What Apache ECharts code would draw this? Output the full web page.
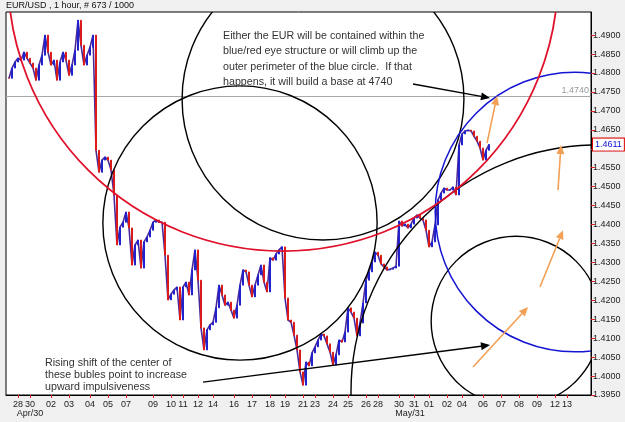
<!DOCTYPE html>
<html>
<head>
<meta charset="utf-8">
<script src="https://cdn.jsdelivr.net/npm/echarts@6/dist/echarts.min.js"></script>
<style>
html, body { margin: 0; padding: 0; background: #f0f0f0; }
#main { width: 625px; height: 422px; }
</style>
</head>
<body>
<div id="main"></div>
<script>
// EUR/USD hourly closes, one per slot, first one sits in slot 1
const closes = [
  1.4786, 1.4813, 1.4829, 1.4839, 1.4834, 1.4855, 1.4839, 1.4826, 1.4813, 1.4781,
  1.4821, 1.4847, 1.4900, 1.4855, 1.4821, 1.4834, 1.4781, 1.4829, 1.4855, 1.4834,
  1.4794, 1.4821, 1.4860, 1.4939, 1.4873, 1.4821, 1.4847, 1.4868, 1.4900, 1.4596,
  1.4538, 1.4570, 1.4578, 1.4570, 1.4544, 1.4478, 1.4346, 1.4393, 1.4406, 1.4433,
  1.4391, 1.4293, 1.4346, 1.4359, 1.4285, 1.4354, 1.4367, 1.4385, 1.4406, 1.4412,
  1.4406, 1.4406, 1.4319, 1.4201, 1.4216, 1.4227, 1.4235, 1.4148, 1.4235, 1.4248,
  1.4214, 1.4280, 1.4333, 1.4253, 1.4127, 1.4069, 1.4122, 1.4135, 1.4142, 1.4180,
  1.4240, 1.4214, 1.4187, 1.4195, 1.4174, 1.4153, 1.4187, 1.4240, 1.4280, 1.4275,
  1.4240, 1.4209, 1.4240, 1.4267, 1.4293, 1.4248, 1.4222, 1.4312, 1.4306, 1.4322,
  1.4333, 1.4341, 1.4206, 1.4148, 1.4142, 1.4108, 1.4069, 1.4011, 1.3976, 1.4037,
  1.4027, 1.4061, 1.4077, 1.4095, 1.4111, 1.4106, 1.4085, 1.4063, 1.4029, 1.4056,
  1.4095, 1.4090, 1.4116, 1.4180, 1.4169, 1.4153, 1.4106, 1.4140, 1.4193, 1.4253,
  1.4275, 1.4301, 1.4327, 1.4319, 1.4296, 1.4288, 1.4280, 1.4282, 1.4285, 1.4290,
  1.4409, 1.4396, 1.4401, 1.4391, 1.4401, 1.4417, 1.4425, 1.4417, 1.4412, 1.4385,
  1.4341, 1.4354, 1.4399, 1.4465, 1.4483, 1.4496, 1.4491, 1.4491, 1.4499, 1.4478,
  1.4610, 1.4639, 1.4647, 1.4649, 1.4647, 1.4633, 1.4620, 1.4602, 1.4570, 1.4596,
  1.4611
];
const slotCount = 196;

// day labels along the time axis and the slot each one sits on
const dayLabels = ['28', '30', '02', '03', '04', '05', '07', '09', '10', '11', '12', '14',
  '16', '17', '18', '19', '21', '23', '24', '25', '26', '28', '30', '31', '01', '02',
  '04', '06', '07', '08', '09', '12', '13'];
const daySlots = [4, 8, 15, 21, 28, 34, 40, 49, 55, 59, 64, 69,
  76, 82, 88, 93, 99, 103, 109, 114, 120, 124, 131, 136, 141, 147,
  152, 159, 165, 171, 177, 183, 187];
const monthLabels = ['Apr/30', 'May/31'];
const monthSlots = [8, 134.7];

// price scale
const yMin = 1.3950, yMax = 1.4961;
const yTicks = [1.3950, 1.4000, 1.4050, 1.4100, 1.4150, 1.4200, 1.4250, 1.4300, 1.4350, 1.4400,
  1.4450, 1.4500, 1.4550, 1.4600, 1.4650, 1.4700, 1.4750, 1.4800, 1.4850, 1.4900];
const baseLevel = 1.4740;
const lastPrice = 1.4611;

// drawn circles: [center slot, center price, radius in price]
const redCircle = [[92.33, 1.5056, 0.0726]];
const blueCircle = [[189.67, 1.4433, 0.0369]];
const blackCircles = [
  [105.67, 1.4731, 0.0372],
  [78, 1.4404, 0.0362],
  [197.33, 1.3958, 0.0652],
  [170, 1.4145, 0.0224]
];
// arrows: [from slot, from price, to slot, to price]
const blackArrows = [
  [135.67, 1.4771, 161.33, 1.4734],
  [65.67, 1.3984, 161.33, 1.4082]
];
const orangeArrows = [
  [160.33, 1.4615, 163.67, 1.4739],
  [184, 1.4491, 185, 1.4610],
  [178, 1.4235, 185.67, 1.4385],
  [155.67, 1.4024, 174, 1.4182]
];

const categories = Array.from({ length: slotCount }, (_, i) => {
  const k = daySlots.indexOf(i);
  return k >= 0 ? dayLabels[k] : '';
});
const candles = [['-', '-', '-', '-']].concat(closes.map((c, i) => {
  const o = i ? closes[i - 1] : c;
  return [o, c, Math.min(o, c), Math.max(o, c)];
}));

const font = 'Liberation Sans, Arial, sans-serif';

function ring(color, width) {
  return function (params, api) {
    const c = api.coord([api.value(0), api.value(1)]);
    const r = api.size([0, api.value(2)])[1];
    return {
      type: 'circle',
      shape: { cx: c[0], cy: c[1], r: r },
      style: { fill: 'none', stroke: color, lineWidth: width }
    };
  };
}

function arrow(color, width, head) {
  return function (params, api) {
    const a = api.coord([api.value(0), api.value(1)]);
    const b = api.coord([api.value(2), api.value(3)]);
    const ang = Math.atan2(b[1] - a[1], b[0] - a[0]);
    const hx = b[0] - head * Math.cos(ang), hy = b[1] - head * Math.sin(ang);
    const nx = -Math.sin(ang) * head * 0.45, ny = Math.cos(ang) * head * 0.45;
    return {
      type: 'group',
      children: [
        { type: 'line', shape: { x1: a[0], y1: a[1], x2: hx, y2: hy }, style: { stroke: color, lineWidth: width } },
        { type: 'polygon', shape: { points: [[b[0], b[1]], [hx + nx, hy + ny], [hx - nx, hy - ny]] }, style: { fill: color } }
      ]
    };
  };
}

function levelLine(params, api) {
  const cs = params.coordSys;
  const y = Math.round(api.coord([0, api.value(0)])[1]) + 0.5;
  return {
    type: 'group',
    children: [
      { type: 'line', shape: { x1: cs.x, y1: y, x2: cs.x + cs.width, y2: y }, style: { stroke: '#a8a8a8', lineWidth: 1 } },
      { type: 'text', style: { x: cs.x + cs.width - 2, y: y - 1, text: api.value(0).toFixed(4), fill: '#999', font: '9px ' + font, align: 'right', verticalAlign: 'bottom' } }
    ]
  };
}

function priceTag(params, api) {
  const cs = params.coordSys;
  const y = api.coord([0, api.value(0)])[1];
  return {
    type: 'text',
    style: {
      x: cs.x + cs.width + 2, y: y, text: api.value(0).toFixed(4), fill: '#1010d0', font: '9px ' + font,
      verticalAlign: 'middle', backgroundColor: '#fff', borderColor: '#d00', borderWidth: 1, padding: [2, 2, 1, 2]
    }
  };
}

const chart = echarts.init(document.getElementById('main'));

chart.setOption({
  animation: false,
  backgroundColor: '#f0f0f0',
  grid: { left: 6, right: 34, top: 12, bottom: 27, show: true, backgroundColor: '#fff', borderColor: '#000', borderWidth: 1 },
  xAxis: [{
    type: 'category',
    data: categories,
    boundaryGap: false,
    axisLine: { lineStyle: { color: '#000' } },
    axisTick: { interval: (i, v) => v !== '', length: 3, lineStyle: { color: '#e02020' } },
    axisLabel: { interval: (i, v) => v !== '', hideOverlap: false, fontSize: 9, color: '#222', margin: 5, fontFamily: font },
    splitLine: { show: false }
  }, {
    type: 'value', min: 0, max: slotCount - 1, show: false
  }],
  yAxis: {
    type: 'value',
    position: 'right',
    min: yMin, max: yMax,
    axisLine: { show: true, onZero: false, lineStyle: { color: '#000' } },
    axisTick: { show: true, length: 4, customValues: yTicks, lineStyle: { color: '#e02020' } },
    axisLabel: { fontSize: 9, color: '#222', margin: 2, fontFamily: font, customValues: yTicks,
      formatter: v => v.toFixed(4) },
    splitLine: { show: false }
  },
  graphic: [
    { type: 'text', z: 100, style: { x: 6, y: 6, text: 'EUR/USD , 1 hour, # 673 / 1000', fill: '#111', font: '9px ' + font, verticalAlign: 'middle' } },
    { type: 'text', z: 100, style: { x: 223, y: 28.5, text: 'Either the EUR will be contained within the\nblue/red eye structure or will climb up the\nouter perimeter of the blue circle.  If that\nhappens, it will build a base at 4740', fill: '#333', font: '10.7px ' + font, lineHeight: 15.3, verticalAlign: 'top' } },
    { type: 'text', z: 100, style: { x: 45, y: 357, text: 'Rising shift of the center of\nthese bubles point to increase\nupward impulsiveness', fill: '#333', font: '10.7px ' + font, lineHeight: 12, verticalAlign: 'top' } }
  ].concat(monthLabels.map((t, k) => ({
    type: 'text', z: 100,
    style: { x: 6 + monthSlots[k] * 3, y: 414, text: t, fill: '#222', font: '9px ' + font, align: 'center', verticalAlign: 'middle' }
  }))),
  series: [
    { type: 'custom', xAxisIndex: 1, clip: true, z: 1, data: [[baseLevel]], encode: { y: 0 }, renderItem: levelLine },
    {
      type: 'line',
      data: ['-'].concat(closes),
      symbol: 'none',
      z: 2,
      lineStyle: { color: '#4a2a9a', width: 1.6 }
    },
    {
      type: 'candlestick',
      data: candles,
      barWidth: 1.5,
      z: 3,
      itemStyle: { color: '#2222cc', color0: '#dd1a1a', borderColor: '#2222cc', borderColor0: '#dd1a1a', borderWidth: 1 }
    },
    { type: 'custom', xAxisIndex: 1, clip: true, z: 5, data: blackCircles, encode: { x: 0, y: 1 }, renderItem: ring('#000', 1.4) },
    { type: 'custom', xAxisIndex: 1, clip: true, z: 6, data: blueCircle, encode: { x: 0, y: 1 }, renderItem: ring('#1414d2', 1.5) },
    { type: 'custom', xAxisIndex: 1, clip: true, z: 6, data: redCircle, encode: { x: 0, y: 1 }, renderItem: ring('#e0102a', 1.8) },
    { type: 'custom', xAxisIndex: 1, clip: true, z: 7, data: blackArrows, encode: { x: [0, 2], y: [1, 3] }, renderItem: arrow('#000', 1.5, 9) },
    { type: 'custom', xAxisIndex: 1, clip: true, z: 7, data: orangeArrows, encode: { x: [0, 2], y: [1, 3] }, renderItem: arrow('#f2a055', 1.6, 9) },
    { type: 'custom', xAxisIndex: 1, clip: false, z: 50, data: [[lastPrice]], encode: { y: 0 }, renderItem: priceTag }
  ]
});
</script>
</body>
</html>
